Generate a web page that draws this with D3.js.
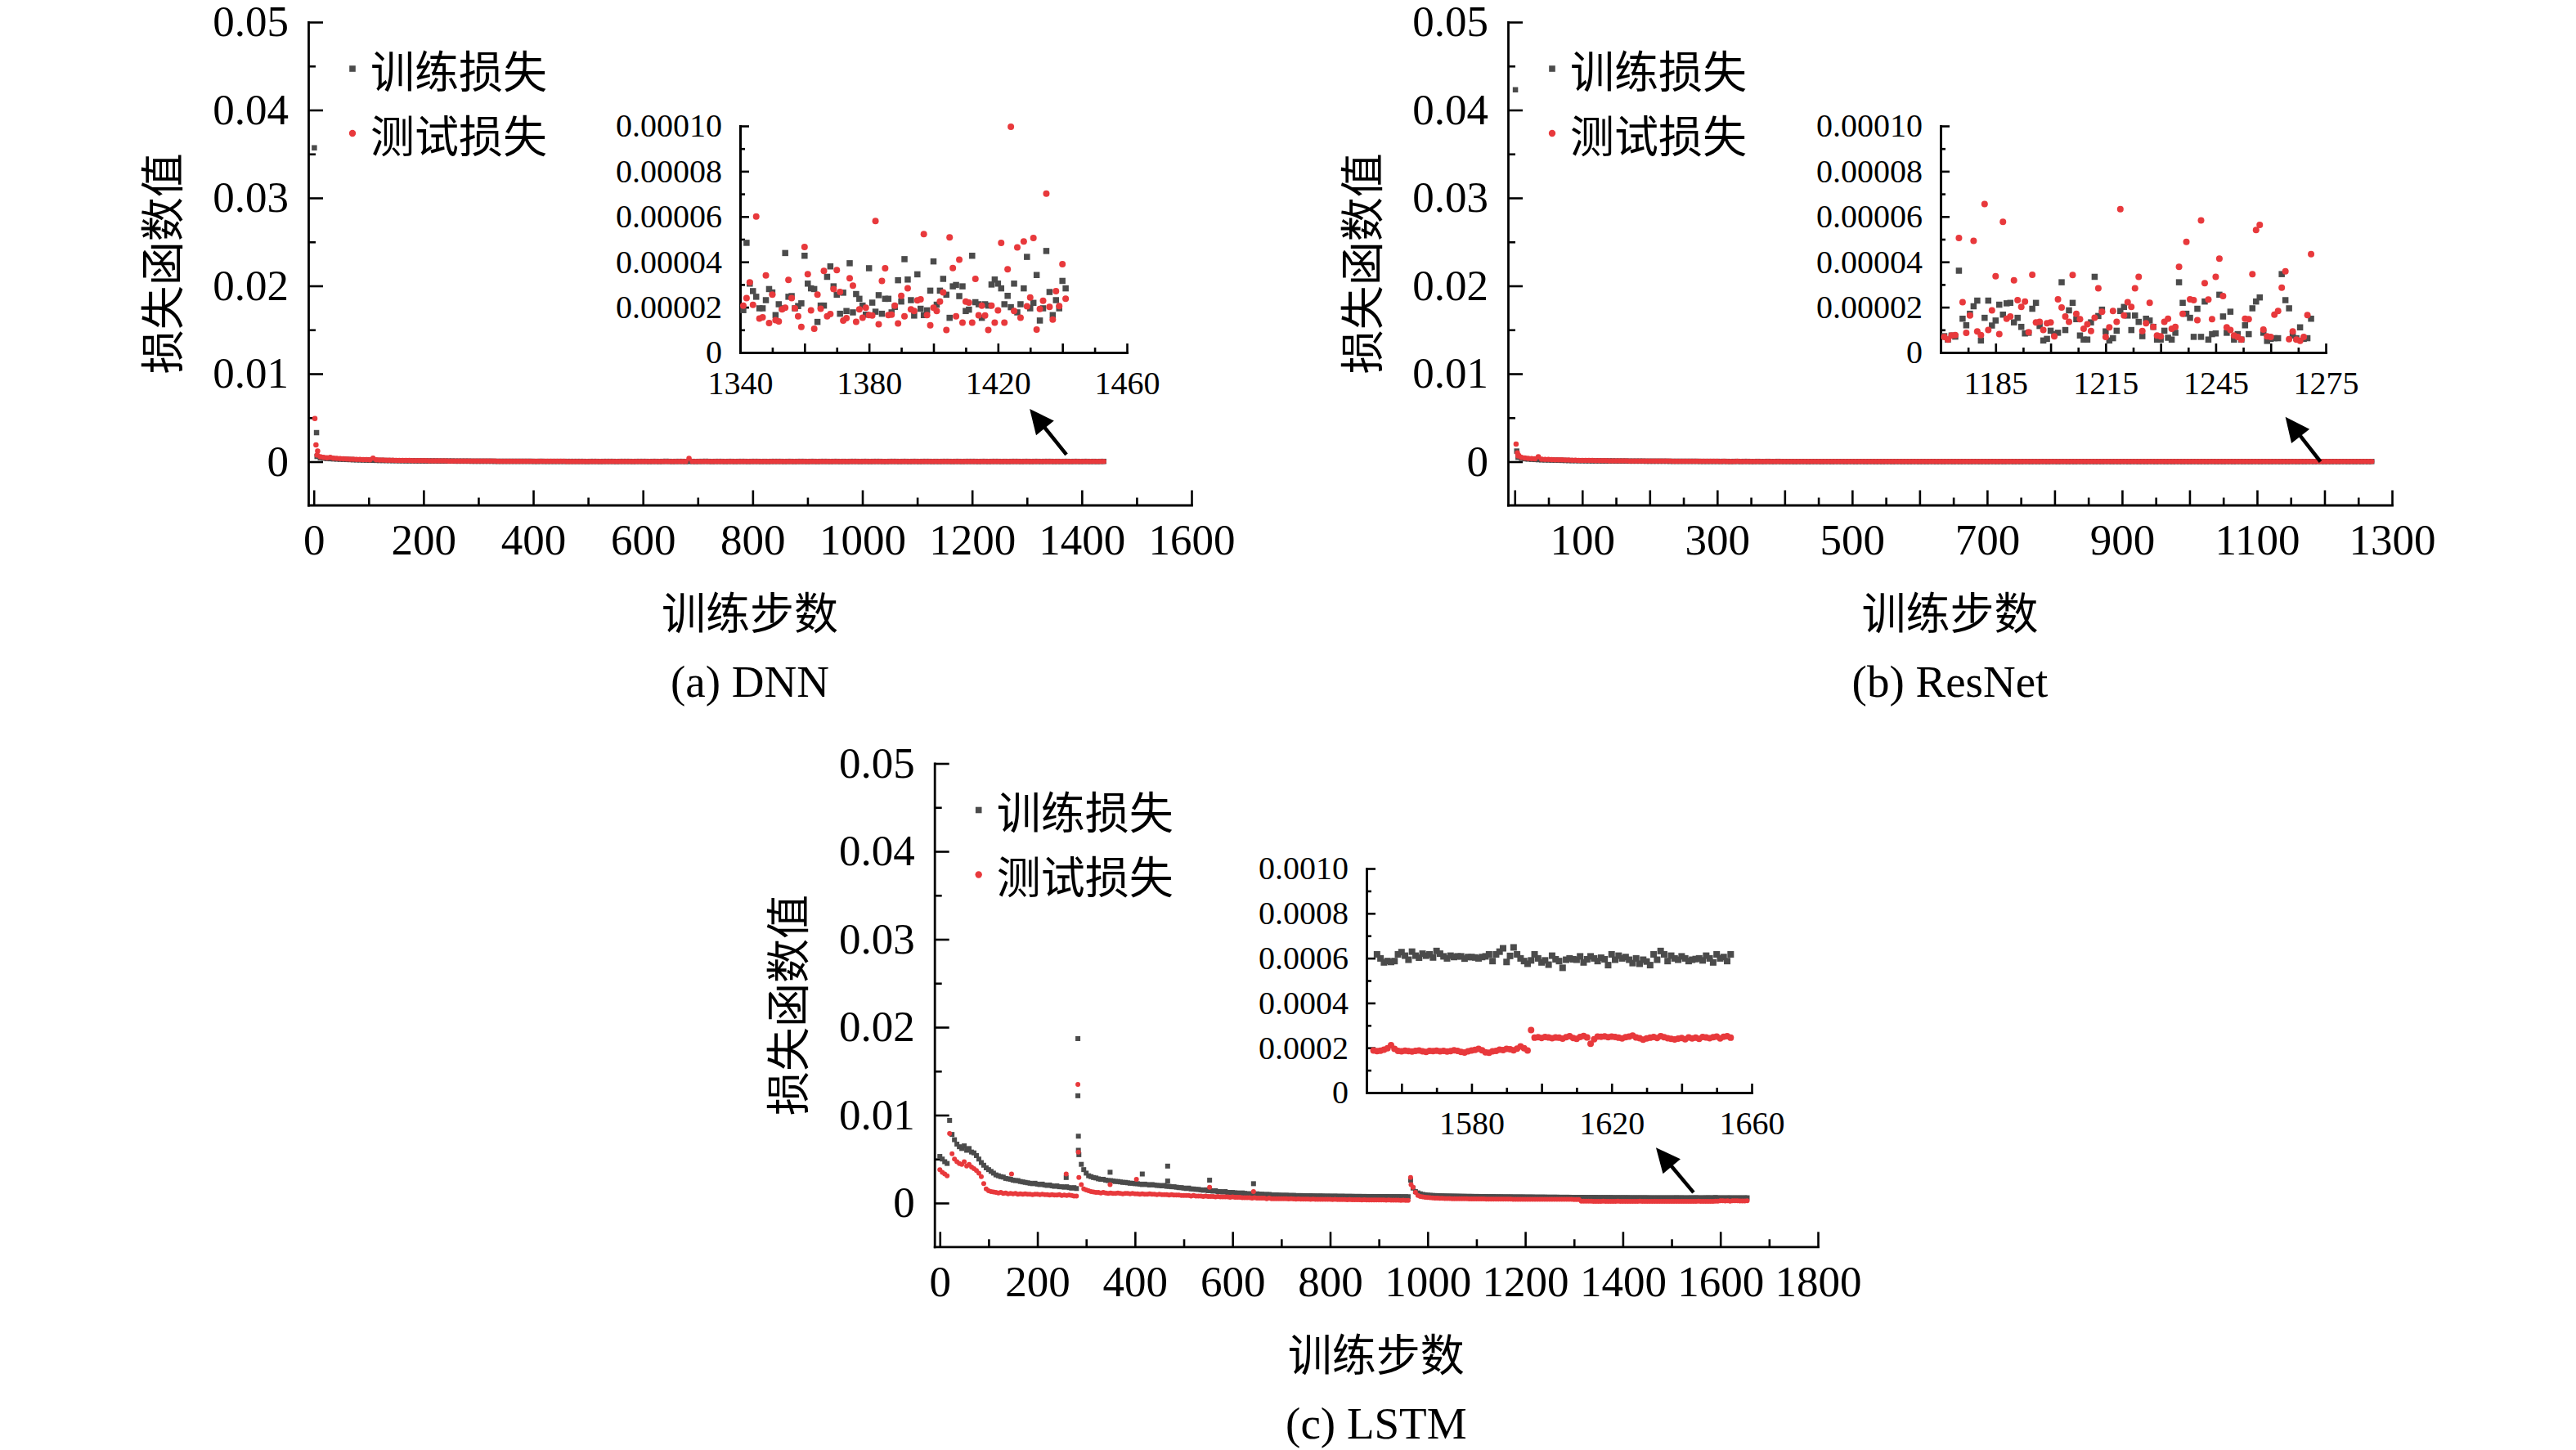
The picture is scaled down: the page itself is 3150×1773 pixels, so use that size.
<!DOCTYPE html>
<html>
<head>
<meta charset="utf-8">
<script src="https://cdn.jsdelivr.net/npm/d3@7"></script>
<style>
  body { margin: 0; background: #fff; }
  svg { display: block; }
</style>
</head>
<body>
<div id="vis"></div>
<script>
const FRAME_WIDTH = 3150;
const FRAME_HEIGHT = 1773;

const GRAY = "#4b4b4b";
const RED = "#e8393c";
const NUM_FONT = "'Liberation Serif', 'Times New Roman', serif";
const CJK_FONT = "'Noto Sans CJK SC', sans-serif";

// text
const LEGEND_LABELS = ["训练损失", "测试损失"];
const X_TITLE = "训练步数";
const Y_TITLE = "损失函数值";
const CAPTIONS = ["(a) DNN", "(b) ResNet", "(c) LSTM"];

// ticks
const MAIN_Y_TICKS = [0, 0.01, 0.02, 0.03, 0.04, 0.05];
const MAIN_Y_MINOR = [0.005, 0.015, 0.025, 0.035, 0.045];
const DNN_X_TICKS = [0, 200, 400, 600, 800, 1000, 1200, 1400, 1600];
const DNN_X_MINOR = [100, 300, 500, 700, 900, 1100, 1300, 1500];
const RESNET_X_TICKS = [0, 100, 200, 300, 400, 500, 600, 700, 800, 900, 1000, 1100, 1200, 1300];
const RESNET_X_LABELS = [100, 300, 500, 700, 900, 1100, 1300];
const RESNET_X_MINOR = [50, 150, 250, 350, 450, 550, 650, 750, 850, 950, 1050, 1150, 1250];
const LSTM_X_TICKS = [0, 200, 400, 600, 800, 1000, 1200, 1400, 1600, 1800];
const LSTM_X_MINOR = [100, 300, 500, 700, 900, 1100, 1300, 1500, 1700];

const ZOOM_Y_TICKS = [0, 0.00002, 0.00004, 0.00006, 0.00008, 0.0001];
const ZOOM_Y_MINOR = [0.00001, 0.00003, 0.00005, 0.00007, 0.00009];
const LSTM_ZOOM_Y_TICKS = [0, 0.0002, 0.0004, 0.0006, 0.0008, 0.001];
const LSTM_ZOOM_Y_MINOR = [0.0001, 0.0003, 0.0005, 0.0007, 0.0009];
const DNN_ZOOM_X_TICKS = [1340, 1360, 1380, 1400, 1420, 1440, 1460];
const DNN_ZOOM_X_LABELS = [1340, 1380, 1420, 1460];
const DNN_ZOOM_X_MINOR = [1350, 1370, 1390, 1410, 1430, 1450];
const RESNET_ZOOM_X_TICKS = [1185, 1200, 1215, 1230, 1245, 1260, 1275];
const RESNET_ZOOM_X_LABELS = [1185, 1215, 1245, 1275];
const RESNET_ZOOM_X_MINOR = [1177.5, 1192.5, 1207.5, 1222.5, 1237.5, 1252.5, 1267.5];
const LSTM_ZOOM_X_TICKS = [1560, 1580, 1600, 1620, 1640, 1660];
const LSTM_ZOOM_X_LABELS = [1580, 1620, 1660];
const LSTM_ZOOM_X_MINOR = [1570, 1590, 1610, 1630, 1650];

// ---- DNN ----
// first few steps, [step, loss]
const dnnTrainEarly = [[1, 0.0357], [5, 0.0033]];
const dnnTestEarly = [[2, 0.0049], [4, 0.0019], [7, 0.0012]];
// main view, read every 6 steps from step 6, units of 1e-5
const dnnTrainMain = [
  60,45,40,36,34,32,30,28,27,25,24,22,21,20,19,18,17,16,15,14,
  14,13,13,12,12,11,11,10,10,10,9,9,9,8,8,8,8,7,7,7,
  7,7,6,6,6,6,6,5,5,5,5,5,5,5,4,4,4,4,4,4,
  4,4,4,4,4,4,3,3,4,3,3,3,3,3,3,3,3,3,3,3,
  3,3,2,3,3,3,2,3,3,3,3,2,3,3,3,3,2,3,3,3,
  3,2,3,3,2,3,4,3,2,3,3,3,2,3,3,2,3,3,4,3,
  2,3,3,3,2,3,3,2,3,3,3,2,3,3,3,2,3,2,3,3,
  3,3,2,3,3,2,3,3,3,2,3,3,2,3,3,3,2,3,3,2,
  3,2,3,3,3,2,3,3,2,3,3,3,2,2,3,3,3,2,3,3,
  2,3,3,2,3,3,3,2,3,2,3,3,3,2,3,3,2,3,3,3,
  3,2,3,3,2,3,3,3,2,3,2,3,3,3,2,3,3,2,3,3,
  2,3,3,3,2,3,2,3,3,2,3,3,2,3,3,2,3,2,3,3
];
const dnnTestMain = [
  75,55,48,44,48,40,37,35,33,31,29,28,26,25,24,23,22,40,20,19,
  18,17,16,16,15,14,14,13,13,12,12,11,11,11,10,10,9,9,9,9,
  8,8,8,8,7,7,7,7,7,6,6,6,6,6,6,5,5,5,5,5,
  5,5,5,5,4,4,4,4,4,4,4,4,4,4,4,4,3,3,3,3,
  3,3,3,3,3,2,3,3,3,3,3,3,2,3,3,3,3,3,2,3,
  3,3,2,3,3,3,3,2,3,3,3,3,3,37,3,3,2,3,3,3,
  3,2,3,3,3,3,2,3,3,3,2,3,3,3,3,2,3,3,3,3,
  2,3,3,3,3,2,3,3,3,2,3,3,3,3,2,3,3,2,3,3,
  3,3,2,3,3,3,3,2,3,3,3,2,3,3,3,3,2,3,3,3,
  3,2,3,3,3,2,3,3,3,3,2,3,3,3,2,3,3,3,3,2,
  3,3,3,2,3,3,3,2,3,3,3,3,2,3,3,3,2,3,3,3,
  2,3,3,3,2,3,3,3,3,2,3,3,3,2,3,3,3,2,3,2
];
// inset, one value per step from 1341, units of 1e-5
const dnnTrainZoom = [
  1.87,4.84,3.04,2.71,2.46,1.95,1.95,2.31,2.80,2.65,
  1.65,2.13,1.95,4.39,2.46,2.49,1.95,2.05,2.17,4.27,
  3.04,2.83,2.80,1.35,2.07,2.07,3.34,3.80,2.92,2.55,
  1.71,2.64,1.83,3.94,1.77,2.58,2.37,2.07,1.67,3.72,
  2.20,1.80,2.53,1.71,2.37,2.37,1.77,2.01,3.19,2.25,4.12,3.22,
  2.31,1.63,3.45,1.93,1.65,1.86,2.73,4.02,2.11,2.73,
  3.25,2.55,1.53,2.92,2.98,2.49,2.92,1.83,1.89,4.27,
  2.22,2.13,1.53,2.13,2.07,3.00,3.22,3.04,2.83,2.13,
  2.50,2.00,3.04,1.77,2.13,2.83,4.22,1.95,2.19,3.42,1.41,1.95,
  4.48,2.67,1.65,2.31,1.95,3.16,2.83
];
const dnnTestZoom = [
  2.07,2.40,3.10,2.10,6.00,1.50,1.55,3.40,1.30,2.55,
  1.43,1.37,1.90,1.98,3.20,2.40,1.95,1.60,1.13,4.66,
  3.46,1.86,1.05,2.55,1.93,3.60,1.60,1.70,2.80,3.64,
  2.67,1.41,1.52,3.28,2.95,1.35,1.90,1.53,1.98,1.65,
  1.63,5.80,1.25,3.16,3.72,1.65,1.67,2.07,1.28,2.50,
  1.60,2.83,1.90,1.83,2.30,2.35,5.23,1.65,1.20,1.98,
  1.83,2.25,2.65,0.99,5.08,3.73,1.60,4.10,1.32,2.25,
  2.20,1.32,3.25,1.64,2.07,1.63,0.99,2.07,1.32,1.86,
  4.84,1.32,3.67,9.96,1.83,4.64,1.53,4.90,2.04,2.43,
  5.05,1.01,1.92,2.28,7.01,2.01,1.45,2.71,2.05,3.90,2.37
];

// ---- ResNet ----
const resnetTrainEarly = [[1, 0.0423], [3, 0.0012]];
const resnetTestEarly = [[2, 0.0020], [4, 0.0010], [6, 0.0007]];
// main view, read every 5 steps from step 5, units of 1e-5
const resnetTrainMain = [
  50,38,33,30,27,25,23,21,20,19,18,17,16,15,14,13,12,12,11,11,
  10,10,9,9,9,8,8,8,8,7,7,7,7,6,6,6,6,6,5,5,
  5,5,5,5,5,4,4,4,4,4,4,4,4,4,3,3,3,3,3,3,
  3,3,3,2,3,3,2,3,3,2,2,3,2,2,3,2,2,3,2,2,
  2,2,1,2,2,2,1,2,2,2,1,2,2,1,2,2,2,1,2,2,
  1,2,2,1,2,2,1,2,1,2,2,1,2,2,1,2,1,2,2,1,
  2,1,2,2,1,2,1,2,2,1,2,1,2,2,1,2,2,1,2,1,
  2,2,1,2,1,2,2,1,2,1,2,2,1,2,1,2,2,1,2,2,
  1,2,2,1,2,1,2,2,1,2,2,1,2,1,2,2,1,2,1,2,
  2,1,2,2,1,2,1,2,2,1,2,2,1,2,1,2,2,1,2,1,
  2,2,1,2,1,2,2,1,2,1,2,2,1,2,2,1,2,1,2,2,
  1,2,2,1,2,2,1,2,1,2,2,1,2,1,2,2,1,2,2,1,
  2,1,2,1,2,2,1,2,1,2,1,2,1,2
];
const resnetTestMain = [
  65,48,42,38,35,32,55,28,26,25,23,22,21,20,19,18,17,16,15,14,
  14,13,13,12,12,11,11,10,10,10,9,9,9,8,8,8,8,7,7,7,
  7,6,6,6,6,6,5,5,5,5,5,5,4,4,4,4,4,4,4,4,
  3,4,3,3,3,4,3,3,3,2,3,3,3,2,3,3,2,3,3,2,
  3,2,2,3,2,2,3,2,2,2,3,2,2,2,3,2,2,2,2,3,
  2,2,3,2,2,2,2,3,2,2,2,2,3,2,2,2,3,2,2,2,
  2,3,2,2,2,3,2,2,2,2,3,2,2,2,2,3,2,2,3,2,
  2,2,2,3,2,2,2,3,2,2,2,2,3,2,2,3,2,2,2,2,
  3,2,2,2,2,3,2,2,3,2,2,2,2,3,2,2,2,3,2,2,
  2,2,3,2,2,2,3,2,2,2,2,3,2,2,3,2,2,2,2,3,
  2,2,2,3,2,2,2,2,3,2,2,3,2,2,2,2,3,2,2,2,
  3,2,2,2,2,3,2,2,2,3,2,2,2,2,3,2,2,3,2,2,
  2,2,3,2,2,2,2,3,2,2,2,2,3,2
];
// inset, one value per step from 1171, units of 1e-5
const resnetTrainZoom = [
  0.72,0.57,0.75,0.70,3.61,1.49,1.20,1.71,2.04,2.29,0.53,1.53,
  2.29,1.19,1.41,2.11,1.67,2.17,2.19,1.33,1.53,1.13,
  0.84,0.87,1.93,2.19,1.17,0.53,0.60,0.96,0.81,0.87,
  3.10,0.99,1.86,2.19,1.47,0.75,0.57,0.57,1.33,3.34,
  1.61,1.89,0.93,0.53,0.63,0.96,1.83,2.01,1.63,0.99,
  1.63,1.35,0.72,1.49,1.41,1.13,0.57,0.57,0.96,0.65,
  0.57,0.87,3.10,2.19,1.71,1.53,0.69,1.93,0.69,2.25,
  0.57,0.81,0.84,2.55,1.59,0.87,1.80,0.57,0.81,0.57,
  1.20,0.81,1.95,2.25,2.43,0.87,0.51,0.60,0.63,0.63,
  3.46,2.31,1.95,0.75,0.63,1.11,0.60,0.63,1.49
];
const resnetTestZoom = [
  0.69,0.57,0.75,0.77,5.05,2.22,0.87,1.63,4.93,0.93,
  0.77,6.55,0.99,1.86,3.37,0.81,5.77,1.49,1.59,3.19,
  2.31,2.01,2.25,0.89,3.43,1.33,1.35,0.99,1.29,1.33,
  0.71,2.35,1.99,1.59,1.35,3.42,1.71,1.47,1.05,1.25,
  0.95,1.53,2.83,1.80,0.69,1.11,1.83,1.35,6.33,1.63,
  2.22,2.01,2.83,3.34,0.95,1.29,2.19,1.13,0.75,0.71,
  1.35,1.49,1.05,1.13,3.78,1.71,4.88,2.35,2.31,1.43,
  5.83,3.06,2.34,1.47,3.34,4.14,2.49,1.11,0.99,0.75,
  0.69,0.57,1.49,1.47,3.46,5.41,5.63,1.01,0.71,0.69,
  1.67,1.83,2.86,3.58,0.59,0.93,0.57,0.51,0.69,1.65,4.34
];

// ---- LSTM ----
// main view, read every 5 steps from step 0, units of 1e-4
const lstmTrainMain = [
  53,50,47,45,94,78,72,67,64,62,65,60,62,58,57,54,50,46,43,40,
  38,36,34,32,31,30,29.5,28,27.5,27,26,25.5,25.5,24.5,24,23.5,23,22.5,22,22.5,
  21.5,21,21.5,20.5,20,20.5,19.5,19,19.5,18.5,18.5,18,18.5,17.5,17,17.5,16.5,55,44,38,
  34,31,30,29,28.5,27.5,27,27,26,25.5,25.5,25,24.5,24.5,24,23.5,23.5,23,22.5,22.5,
  22,22,21.5,21,21.5,21,20.5,21,20.5,20,20,19.5,20,19,19,18.5,18.5,18,17.5,17.5,
  17,16.5,17,16,16,15.5,15.5,15,14.5,15,14,14,13.5,14,13,13,12.5,13,12,12,
  12,11.5,11.5,11,11.5,11,10.5,10.5,10.5,10,10.5,10,10,9.8,9.6,9.8,9.3,9.2,9.2,9,
  8.9,8.8,8.9,8.7,8.6,8.7,8.5,8.4,8.5,8.3,8.3,8.2,8.3,8.1,8.1,8.0,8.1,8.0,7.9,7.9,
  7.9,7.8,7.9,7.8,7.7,7.8,7.7,7.6,7.7,7.6,7.6,7.5,7.6,7.5,7.5,7.5,7.4,7.5,7.4,7.4,
  7.4,7.4,7.3,7.4,7.3,7.3,7.3,7.2,7.3,7.2,7.2,7.2,7.2,26,17,13,11.5,10.5,9.8,9.3,
  9.0,8.8,8.6,8.5,8.4,8.3,8.2,8.1,8.0,8.0,7.9,7.9,7.8,7.8,7.7,7.7,7.6,7.6,7.6,7.5,
  7.5,7.5,7.4,7.4,7.4,7.3,7.3,7.3,7.2,7.2,7.2,7.1,7.1,7.1,7.1,7.0,7.0,7.0,7.0,7.0,
  6.9,6.9,6.9,6.9,6.8,6.8,6.8,6.8,6.8,6.7,6.7,6.7,6.7,6.7,6.6,6.6,6.6,6.6,6.6,6.5,
  6.5,6.5,6.5,6.5,6.5,6.4,6.4,6.4,6.4,6.4,6.3,6.3,6.3,6.3,6.3,6.3,6.2,6.2,6.2,6.2,
  6.2,6.2,6.2,6.1,6.1,6.1,6.1,6.1,6.1,6.1,6.1,6.0,6.0,6.0,6.0,6.0,6.0,6.0,6.0,6.0,
  6.0,6.0,6.1,6.0,6.0,6.0,5.9,6.0,6.0,6.0,6.1,6.0,5.9,6.0,6.0,6.1,6.0,6.0,6.3,6.0,
  5.9,6.0,5.9,6.0,6.0,5.9,6.0,5.9,6.0,5.9,6.0,6.0
];
const lstmTestMain = [
  38,35,33,31,79,56,50,47,45,44,47,42,44,41,39,37,34,30,22,16,
  14,13,12.5,12,11.5,12,11,11.5,10.5,11,10.5,11,10,10.5,10,10.5,10,10,9.5,10,
  10,9.5,10,9.5,9.5,9,9.5,9,9,9.5,8.5,9,8.5,9,8.5,8,8,29,21,16,
  15,14,13,12.5,12,12,11.5,12,11.5,11,11.5,11,11,11.5,11,10.5,11,11,10.5,11,
  10.5,10.5,10,10.5,10,10,10.5,10,10,9.5,10,9.5,9.5,9.5,9,9.5,9,9,9,8.5,
  8.5,8.5,8.5,8,8.5,8,8,8,7.5,8,7.5,7.5,7.5,7,7.5,7,7,7,7,6.5,
  7,6.5,6.5,6.5,6,6,6,6,5.5,6,5.5,5.5,5.5,5.5,5,5.5,5,5,5,5,
  5,4.8,4.8,4.6,4.8,4.6,4.5,4.6,4.5,4.4,4.5,4.4,4.3,4.4,4.3,4.2,4.3,4.2,4.1,4.2,
  4.1,4,4.1,4,3.9,4,3.9,3.8,3.9,3.8,3.7,3.8,3.7,3.6,3.7,3.6,3.5,3.6,3.5,3.5,
  3.4,3.5,3.4,3.3,3.4,3.3,3.2,3.3,3.2,3.1,3.2,3.1,3.1,29,18,12,8.5,7.5,7,6.5,
  6.2,6,5.8,5.6,5.5,5.4,5.3,5.2,5.2,5.1,5,5,4.9,4.9,4.8,4.8,4.8,4.7,4.7,4.7,
  4.6,4.6,4.6,4.6,4.5,4.5,4.5,4.5,4.5,4.4,4.4,4.4,4.4,4.4,4.4,4.3,4.3,4.3,4.3,4.3,
  4.3,4.3,4.2,4.2,4.2,4.2,4.2,4.2,4.2,4.2,4.1,4.1,4.1,4.1,4.1,4.1,4.1,4.1,4.1,4.1,
  4.0,4.0,4.0,2.1,2.0,2.0,2.0,2.0,1.9,1.9,1.9,1.9,2.0,1.9,1.9,1.9,1.9,1.9,2.0,1.9,
  1.9,1.9,1.8,1.9,1.9,1.9,1.9,2.0,1.9,1.9,1.8,1.9,1.9,1.9,1.9,1.9,1.9,1.8,1.9,1.9,
  1.9,1.9,1.9,1.9,1.8,1.9,1.9,1.9,1.9,1.9,1.9,2.1,1.9,1.9,1.8,1.9,1.9,1.9,2.0,2.0,
  2.5,2.5,2.4,2.5,2.2,2.5,2.5,2.5,2.4,2.4,2.4,2.5
];
// isolated points off the bands, [step, loss in 1e-4]
const lstmTrainSpikes = [[283,187],[283,122],[284,76],[284,60],[259,29],[349,35],[415,33],[467,42],[467,25],[553,26],[643,22]];
const lstmTestSpikes = [[283,135],[284,58],[147,33],[259,33],[349,21],[403,27],[553,18],[643,13],[966,21]];
// inset, one value per step, units of 1e-4
const lstmTrainZoom = [
  6.17,5.99,5.81,5.87,5.83,5.87,6.17,6.27,6.11,5.93,6.29,6.11,6.02,
  6.20,6.11,6.17,6.03,6.32,6.20,6.08,5.99,6.11,6.05,6.08,6.08,5.98,
  6.05,6.05,6.03,5.99,6.05,6.08,6.17,5.87,6.17,6.29,6.44,5.83,6.10,
  6.48,6.17,5.99,5.87,5.75,5.90,6.17,5.99,5.81,5.90,5.71,6.11,5.95,
  5.87,5.57,5.93,5.99,5.95,5.93,6.08,5.81,5.95,6.08,5.99,5.87,6.02,
  5.95,5.69,6.17,5.93,6.11,5.99,6.05,5.93,5.78,5.99,5.75,5.93,5.85,
  5.69,6.17,5.93,6.32,6.17,5.87,6.11,5.99,5.93,6.08,5.99,5.87,5.93,
  5.96,5.99,5.90,6.11,5.99,5.81,6.17,5.99,6.05,5.87,6.17
];
const lstmTestZoom = [
  1.88,1.85,1.87,1.92,1.98,2.12,1.95,1.86,1.84,1.87,1.85,1.83,1.86,1.88,1.84,
  1.82,1.86,1.85,1.87,1.84,1.86,1.83,1.85,1.89,1.86,1.82,1.79,1.84,1.88,1.91,
  1.95,1.89,1.80,1.78,1.84,1.86,1.92,1.90,1.95,1.93,1.89,1.96,2.06,1.98,1.88,
  2.79,
  2.45,2.47,2.44,2.48,2.46,2.43,2.46,2.45,2.41,2.47,2.52,2.44,2.40,2.48,2.53,
  2.46,2.18,2.38,2.50,2.49,2.51,2.47,2.50,2.48,2.45,2.42,2.47,2.50,2.55,2.46,
  2.43,2.36,2.42,2.45,2.48,2.44,2.52,2.47,2.43,2.40,2.37,2.41,2.44,2.38,2.46,
  2.42,2.45,2.40,2.48,2.46,2.43,2.47,2.50,2.42,2.49,2.52,2.45
];

const FRAME = d3.select("#vis")
  .append("svg")
    .attr("width", FRAME_WIDTH)
    .attr("height", FRAME_HEIGHT)
    .style("background", "#fff");

// index -> training step
function toPoints(values, firstStep, every, unit) {
  return values.map((v, i) => ({ x: firstStep + i * every, y: v * unit }));
}
function pairs(list, unit) {
  return list.map(d => ({ x: d[0], y: d[1] * unit }));
}

function drawAxes(g, X, Y, a) {
  const baseY = Y.range()[0];
  const baseX = X.range()[0];

  g.append("g")
    .attr("transform", `translate(0,${baseY})`)
    .call(d3.axisBottom(X).tickValues(a.xMinor).tickSize(-a.minorLen).tickFormat(() => ""))
    .call(s => s.select(".domain").remove());
  g.append("g")
    .attr("transform", `translate(${baseX},0)`)
    .call(d3.axisLeft(Y).tickValues(a.yMinor).tickSize(-a.minorLen).tickFormat(() => ""))
    .call(s => s.select(".domain").remove());

  const xa = g.append("g")
    .attr("transform", `translate(0,${baseY})`)
    .call(d3.axisBottom(X)
      .tickValues(a.xMajor)
      .tickSize(-a.majorLen)
      .tickSizeOuter(0)
      .tickPadding(a.xPad)
      .tickFormat(d => a.xLabels.includes(d) ? String(d) : ""));
  const ya = g.append("g")
    .attr("transform", `translate(${baseX},0)`)
    .call(d3.axisLeft(Y)
      .tickValues(a.yMajor)
      .tickSize(-a.majorLen)
      .tickSizeOuter(0)
      .tickPadding(a.yPad)
      .tickFormat(a.yFormat));

  [xa, ya].forEach(ax => {
    ax.attr("font-family", NUM_FONT).attr("font-size", a.fontSize);
    ax.select(".domain").attr("stroke-width", a.stroke).attr("stroke-linecap", "square");
    ax.selectAll("text").attr("fill", "#000");
  });
  g.selectAll(".tick line").attr("stroke-width", a.tickStroke);
}

function drawSeries(g, X, Y, pts, kind, size) {
  if (kind === "square") {
    g.append("g").selectAll("rect")
      .data(pts)
      .enter()
      .append("rect")
      .attr("x", d => X(d.x) - size / 2)
      .attr("y", d => Y(d.y) - size / 2)
      .attr("width", size)
      .attr("height", size)
      .attr("fill", GRAY);
  } else {
    g.append("g").selectAll("circle")
      .data(pts)
      .enter()
      .append("circle")
      .attr("cx", d => X(d.x))
      .attr("cy", d => Y(d.y))
      .attr("r", size / 2)
      .attr("fill", RED);
  }
}

function drawArrow(g, X, Y, from, to) {
  const x1 = X(from[0]), y1 = Y(from[1]);
  const x2 = X(to[0]), y2 = Y(to[1]);
  const ang = Math.atan2(y2 - y1, x2 - x1);
  const headLen = 30, half = 14;
  const bx = x2 - headLen * Math.cos(ang);
  const by = y2 - headLen * Math.sin(ang);
  g.append("line")
    .attr("x1", x1).attr("y1", y1)
    .attr("x2", bx + 4 * Math.cos(ang)).attr("y2", by + 4 * Math.sin(ang))
    .attr("stroke", "#000")
    .attr("stroke-width", 4.5);
  g.append("path")
    .attr("d", `M${x2},${y2} L${bx + half * Math.sin(ang)},${by - half * Math.cos(ang)} L${bx - half * Math.sin(ang)},${by + half * Math.cos(ang)} Z`)
    .attr("fill", "#000");
}

function drawPanel(p) {
  const g = FRAME.append("g");
  const yMin = -0.05 * (p.bottom - p.zeroY) / (p.zeroY - p.top);
  const X = d3.scaleLinear().domain(p.xDomain).range([p.left, p.right]);
  const Y = d3.scaleLinear().domain([yMin, 0.05]).range([p.bottom, p.top]);

  drawAxes(g, X, Y, {
    xMajor: p.xTicks, xLabels: p.xLabels, xMinor: p.xMinor,
    yMajor: MAIN_Y_TICKS, yMinor: MAIN_Y_MINOR,
    yFormat: v => v === 0 ? "0" : d3.format(".2f")(v),
    majorLen: 18, minorLen: 9, xPad: 23, yPad: 24,
    fontSize: 53, stroke: 2.8, tickStroke: 2.6
  });

  drawSeries(g, X, Y, p.train, "square", p.markSize);
  drawSeries(g, X, Y, p.test, "circle", p.markSize);

  // legend
  const lx = p.left + 54;
  [p.top + 57, p.top + 136].forEach((ly, i) => {
    if (i === 0) {
      g.append("rect").attr("x", lx - 3.8).attr("y", ly - 3.8)
        .attr("width", 7.6).attr("height", 7.6).attr("fill", GRAY);
    } else {
      g.append("circle").attr("cx", lx).attr("cy", ly).attr("r", 4.2).attr("fill", RED);
    }
    g.append("text")
      .attr("x", lx + 22).attr("y", ly)
      .attr("dominant-baseline", "central")
      .attr("font-family", CJK_FONT)
      .attr("font-size", 54)
      .text(LEGEND_LABELS[i]);
  });

  const cx = (p.left + p.right) / 2;
  g.append("text")
    .attr("transform", `translate(${p.left - 182},${(p.top + p.bottom) / 2}) rotate(-90)`)
    .attr("text-anchor", "middle")
    .attr("dominant-baseline", "central")
    .attr("font-family", CJK_FONT)
    .attr("font-size", 54)
    .text(Y_TITLE);
  g.append("text")
    .attr("x", cx).attr("y", p.bottom + 129)
    .attr("text-anchor", "middle")
    .attr("dominant-baseline", "central")
    .attr("font-family", CJK_FONT)
    .attr("font-size", 54)
    .text(X_TITLE);
  g.append("text")
    .attr("x", cx).attr("y", p.bottom + 216)
    .attr("text-anchor", "middle")
    .attr("dominant-baseline", "central")
    .attr("font-family", NUM_FONT)
    .attr("font-size", 55)
    .text(p.caption);

  drawArrow(g, X, Y, p.arrow[0], p.arrow[1]);

  // zoomed inset
  const z = p.inset;
  const ig = FRAME.append("g");
  const ZX = d3.scaleLinear().domain(z.xDomain).range([z.left, z.right]);
  const ZY = d3.scaleLinear().domain(z.yDomain).range([z.bottom, z.top]);
  drawAxes(ig, ZX, ZY, {
    xMajor: z.xTicks, xLabels: z.xLabels, xMinor: z.xMinor,
    yMajor: z.yTicks, yMinor: z.yMinor, yFormat: z.yFormat,
    majorLen: 11, minorLen: 6, xPad: 23, yPad: 22,
    fontSize: 40, stroke: 3, tickStroke: 2.6
  });
  drawSeries(ig, ZX, ZY, z.train, "square", z.squareSize);
  drawSeries(ig, ZX, ZY, z.test, "circle", z.dotSize);
}

const fmtZoom = v => v === 0 ? "0" : d3.format(".5f")(v);
const fmtZoomLstm = v => v === 0 ? "0" : d3.format(".4f")(v);

const PANELS = [
  {
    caption: CAPTIONS[0],
    left: 377, right: 1457, top: 27, zeroY: 564.5, bottom: 617.5,
    xDomain: [-10, 1600], xTicks: DNN_X_TICKS, xLabels: DNN_X_TICKS, xMinor: DNN_X_MINOR,
    train: pairs(dnnTrainEarly, 1).concat(toPoints(dnnTrainMain, 6, 6, 1e-5)),
    test: pairs(dnnTestEarly, 1).concat(toPoints(dnnTestMain, 6, 6, 1e-5)),
    markSize: 6.5,
    arrow: [[1372, 0.0008], [1305, 0.0060]],
    inset: {
      left: 905, right: 1378, top: 154, bottom: 431,
      xDomain: [1340, 1460], yDomain: [0, 0.0001],
      xTicks: DNN_ZOOM_X_TICKS, xLabels: DNN_ZOOM_X_LABELS, xMinor: DNN_ZOOM_X_MINOR,
      yTicks: ZOOM_Y_TICKS, yMinor: ZOOM_Y_MINOR, yFormat: fmtZoom,
      train: toPoints(dnnTrainZoom, 1341, 1, 1e-5),
      test: toPoints(dnnTestZoom, 1341, 1, 1e-5),
      squareSize: 7.5, dotSize: 8
    }
  },
  {
    caption: CAPTIONS[1],
    left: 1844, right: 2925, top: 27, zeroY: 564.5, bottom: 617.5,
    xDomain: [-10, 1300], xTicks: RESNET_X_TICKS, xLabels: RESNET_X_LABELS, xMinor: RESNET_X_MINOR,
    train: pairs(resnetTrainEarly, 1).concat(toPoints(resnetTrainMain, 5, 5, 1e-5)),
    test: pairs(resnetTestEarly, 1).concat(toPoints(resnetTestMain, 5, 5, 1e-5)),
    markSize: 6.5,
    arrow: [[1194, 0.0], [1142, 0.0051]],
    inset: {
      left: 2373, right: 2844, top: 154, bottom: 431,
      xDomain: [1170, 1275], yDomain: [0, 0.0001],
      xTicks: RESNET_ZOOM_X_TICKS, xLabels: RESNET_ZOOM_X_LABELS, xMinor: RESNET_ZOOM_X_MINOR,
      yTicks: ZOOM_Y_TICKS, yMinor: ZOOM_Y_MINOR, yFormat: fmtZoom,
      train: toPoints(resnetTrainZoom, 1171, 1, 1e-5),
      test: toPoints(resnetTestZoom, 1171, 1, 1e-5),
      squareSize: 7.5, dotSize: 8
    }
  },
  {
    caption: CAPTIONS[2],
    left: 1142.7, right: 2223, top: 933.5, zeroY: 1471, bottom: 1524.3,
    xDomain: [-11, 1800], xTicks: LSTM_X_TICKS, xLabels: LSTM_X_TICKS, xMinor: LSTM_X_MINOR,
    train: toPoints(lstmTrainMain, 0, 5, 1e-4).concat(pairs(lstmTrainSpikes, 1e-4)),
    test: toPoints(lstmTestMain, 0, 5, 1e-4).concat(pairs(lstmTestSpikes, 1e-4)),
    markSize: 6,
    arrow: [[1545, 0.0012], [1468, 0.0063]],
    inset: {
      left: 1671, right: 2142, top: 1062, bottom: 1336,
      xDomain: [1550, 1660], yDomain: [0, 0.001],
      xTicks: LSTM_ZOOM_X_TICKS, xLabels: LSTM_ZOOM_X_LABELS, xMinor: LSTM_ZOOM_X_MINOR,
      yTicks: LSTM_ZOOM_Y_TICKS, yMinor: LSTM_ZOOM_Y_MINOR, yFormat: fmtZoomLstm,
      train: toPoints(lstmTrainZoom, 1553, 1, 1e-4),
      test: toPoints(lstmTestZoom, 1552, 1, 1e-4),
      squareSize: 8, dotSize: 8
    }
  }
];

PANELS.forEach(drawPanel);
</script>
</body>
</html>
